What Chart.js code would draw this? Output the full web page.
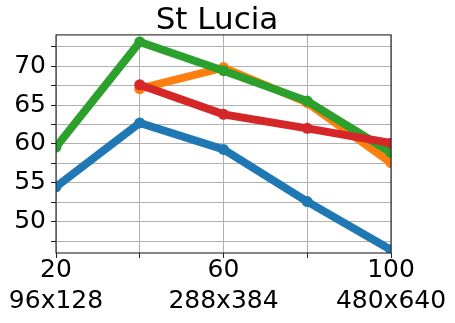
<!DOCTYPE html>
<html>
<head>
<meta charset="utf-8">
<script src="https://cdn.jsdelivr.net/npm/chart.js@4/dist/chart.umd.min.js"></script>
<style>
  html, body { margin: 0; padding: 0; background: #fff; }
  #wrap { width: 455px; height: 323px; }
</style>
</head>
<body>
<div id="wrap"><canvas id="cvs" width="455" height="323"></canvas></div>
<script>
// values
var xValues = [20, 40, 60, 80, 100];
var xLabels = {20: ["20", "96x128"], 60: ["60", "288x384"], 100: ["100", "480x640"]};
var blueVals = [54.5, 62.7, 59.3, 52.6, 46.4];
var orangeVals = [null, 67.1, 69.8, 65.3, 57.6];
var greenVals = [59.6, 73.1, 69.4, 65.5, 58.9];
var redVals = [null, 67.6, 63.8, 62.0, 60.1];
var yLabelStep = 5;

function toPoints(vals) {
    return vals.map(function (v, i) { return {x: xValues[i], y: v}; });
}

// order: lower number is drawn on top (red last, like matplotlib)
function series(vals, color, order) {
    return {
        data: toPoints(vals),
        order: order,
        borderColor: color,
        backgroundColor: color,
        borderWidth: 8,
        pointRadius: 5.5,
        pointBorderWidth: 0,
        pointHoverRadius: 5.5,
        spanGaps: false,
        clip: 0
    };
}

// black frame round the plot, like matplotlib spines
var frame = {
    id: 'frame',
    afterDatasetsDraw: function (chart) {
        var a = chart.chartArea, ctx = chart.ctx;
        ctx.save();
        ctx.strokeStyle = '#222';
        ctx.lineWidth = 1.1;
        ctx.strokeRect(a.left, a.top, a.right - a.left, a.bottom - a.top);
        ctx.restore();
    }
};

var font = 'DejaVu Sans';
new Chart(document.getElementById('cvs').getContext('2d'), {
    type: 'line',
    data: {
        datasets: [
            series(blueVals, '#1f77b4', 3),
            series(orangeVals, '#ff7f0e', 2),
            series(greenVals, '#2ca02c', 1),
            series(redVals, '#d62728', 0)
        ]
    },
    options: {
        responsive: false,
        animation: false,
        layout: {padding: {left: 0, right: 21, top: 0, bottom: 0}},
        plugins: {
            legend: {display: false},
            tooltip: {enabled: false},
            title: {
                display: true,
                text: 'St Lucia',
                color: '#000',
                font: {family: font, size: 31, weight: 'normal', lineHeight: 0.9},
                padding: {top: 7, bottom: 0}
            }
        },
        scales: {
            x: {
                type: 'linear',
                min: 20,
                max: 100,
                grid: {color: '#b0b0b0', lineWidth: 1, tickLength: 5, tickColor: '#222'},
                border: {display: false},
                ticks: {
                    stepSize: 20,
                    color: '#000',
                    padding: -3,
                    maxRotation: 0,
                    autoSkip: false,
                    font: {family: font, size: 25, lineHeight: 1.24},
                    callback: function (v) { return xLabels[v] || ''; }
                },
                afterFit: function (s) { s.height = 70; }
            },
            y: {
                min: 46,
                max: 74,
                grid: {color: '#b0b0b0', lineWidth: 1, tickLength: 5, tickColor: '#222'},
                border: {display: false},
                ticks: {
                    stepSize: 2.5,
                    includeBounds: false,
                    autoSkip: false,
                    color: '#000',
                    padding: 5,
                    font: {family: font, size: 25},
                    callback: function (v) { return v % yLabelStep === 0 ? String(v) : ''; }
                },
                afterFit: function (s) { s.width = 56; }
            },
            // empty right-hand spacer so the title sits where the reference has it
            spacer: {
                type: 'linear',
                position: 'right',
                grid: {display: false},
                border: {display: false},
                ticks: {display: false},
                afterFit: function (s) { s.width = 43; }
            }
        }
    },
    plugins: [frame]
});
</script>
</body>
</html>
